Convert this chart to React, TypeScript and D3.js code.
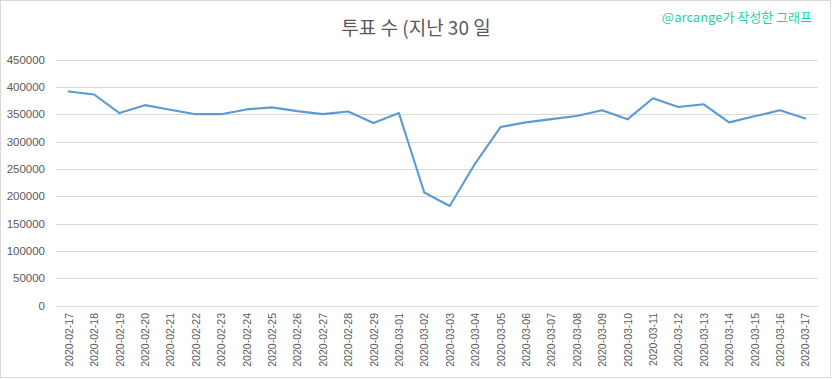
import React from "react";
import * as d3 from "d3";

const dates = [
  "2020-02-17","2020-02-18","2020-02-19","2020-02-20","2020-02-21","2020-02-22","2020-02-23",
  "2020-02-24","2020-02-25","2020-02-26","2020-02-27","2020-02-28","2020-02-29","2020-03-01",
  "2020-03-02","2020-03-03","2020-03-04","2020-03-05","2020-03-06","2020-03-07","2020-03-08",
  "2020-03-09","2020-03-10","2020-03-11","2020-03-12","2020-03-13","2020-03-14","2020-03-15",
  "2020-03-16","2020-03-17",
];
const votes = [
  391600, 386000, 352000, 366500, 358000, 350000, 350000,
  358700, 362400, 355600, 350000, 355000, 333700, 352000,
  206700, 182000, 259600, 326400, 335000, 341000, 346500,
  357000, 340500, 379000, 363000, 368000, 335000, 346000,
  357000, 342000,
];
const yTicks = [0, 50000, 100000, 150000, 200000, 250000, 300000, 350000, 400000, 450000];
const title = "투표 수 (지난 30 일";
const watermark = "@arcange가 작성한 그래프";

const W = 832, H = 379;
const plot = { left: 56, right: 818, top: 59.5, bottom: 305.5 };

export default function App() {
  const x = d3.scaleBand<string>().domain(dates).range([plot.left, plot.right]);
  const y = d3.scaleLinear().domain([0, 450000]).range([plot.bottom, plot.top]);
  const line = d3
    .line<number>()
    .x((_, i) => (x(dates[i]) as number) + x.bandwidth() / 2)
    .y((d) => y(d));
  const font = "'Liberation Sans', Arial, sans-serif";
  return (
    <svg width={W} height={H} style={{ position: "absolute", left: 0, top: 0, background: "#fff" }}>
      <rect x={0.5} y={0.5} width={W - 2} height={H - 2} fill="#fff" stroke="#d9d9d9" />
      {yTicks.map((t) => (
        <g key={t}>
          <line x1={plot.left} x2={plot.right} y1={Math.round(y(t)) + 0.5} y2={Math.round(y(t)) + 0.5} stroke="#d9d9d9" strokeWidth={1} />
          <text x={45} y={y(t)} dy="0.35em" textAnchor="end" fontFamily={font} fontSize={11.5} fill="#595959">
            {t}
          </text>
        </g>
      ))}
      {dates.map((d) => {
        const cx = (x(d) as number) + x.bandwidth() / 2;
        return (
          <text
            key={d}
            transform={`translate(${cx + 4},${313}) rotate(-90)`}
            textAnchor="end"
            fontFamily={font}
            fontSize={10.5}
            fill="#595959"
          >
            {d}
          </text>
        );
      })}
      <path d={line(votes) || ""} fill="none" stroke="#5b9bd5" strokeWidth={2.1} strokeLinejoin="round" strokeLinecap="round" />
      <text x={416} y={35} textAnchor="middle" fontFamily="'Noto Sans CJK KR', 'Noto Sans', sans-serif" fontSize={19} fill="#595959">
        {title}
      </text>
      <text x={812} y={22} textAnchor="end" fontFamily="'Noto Sans CJK KR', 'Noto Sans', sans-serif" fontSize={13} fill="#1dd3a7">
        {watermark}
      </text>
    </svg>
  );
}
